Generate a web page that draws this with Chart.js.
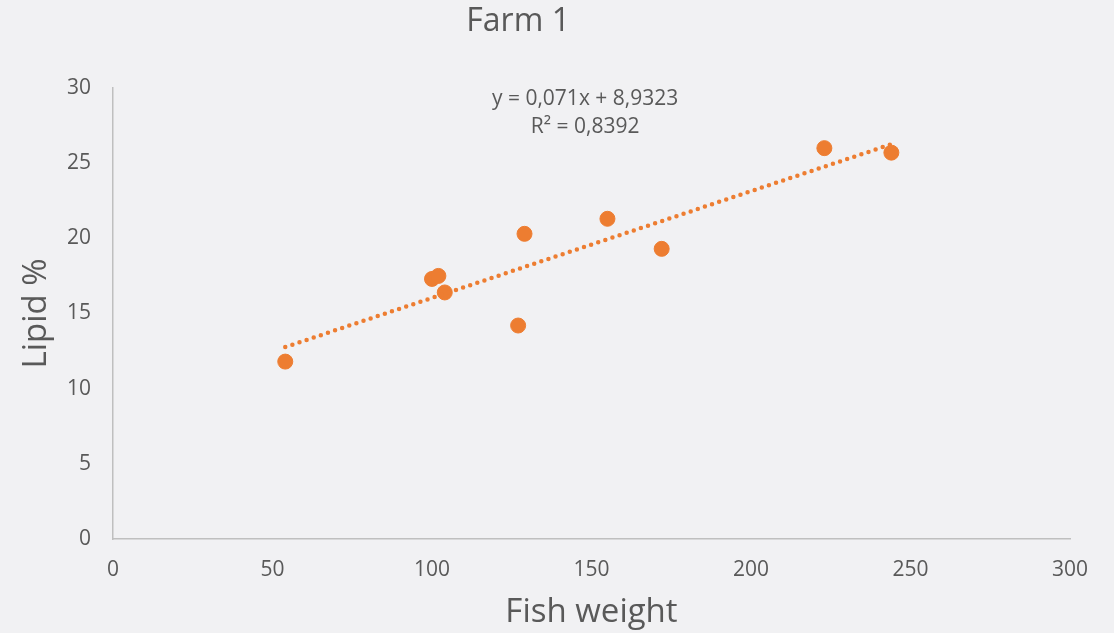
<!DOCTYPE html>
<html>
<head>
<meta charset="utf-8">
<script src="https://cdn.jsdelivr.net/npm/chart.js@4"></script>
<style>
  html, body { margin: 0; padding: 0; background: #f1f1f3; }
  #wrap { width: 1114px; height: 633px; }
</style>
</head>
<body>
<div id="wrap"><canvas id="chart" width="1114" height="633"></canvas></div>
<script>
// Chart data
const fishWeight = [54, 100, 102, 104, 127, 129, 155, 172, 223, 244];
const lipidPct   = [11.8, 17.3, 17.5, 16.4, 14.2, 20.3, 21.3, 19.3, 26.0, 25.7];
const trendX = [54, 244];
const trendY = [12.77, 26.26];
const xTicks = [0, 50, 100, 150, 200, 250, 300];
const yTicks = [0, 5, 10, 15, 20, 25, 30];
const chartTitle = 'Farm 1';
const equationLines = ['y = 0,071x + 8,9323', 'R² = 0,8392'];

const orange = '#ED7D31';
const textGrey = '#595959';
const fontFamily = '"Open Sans", Lato, sans-serif';

const points = fishWeight.map((x, i) => ({ x: x, y: lipidPct[i] }));
const trend = trendX.map((x, i) => ({ x: x, y: trendY[i] }));

// Chart title (sits a bit left of centre, as in the original) and trendline label
const labelsPlugin = {
    id: 'labels',
    afterDatasetsDraw(chart) {
        const ctx = chart.ctx;
        const xs = chart.scales.x;
        const ys = chart.scales.y;
        ctx.save();
        ctx.fillStyle = textGrey;
        ctx.textAlign = 'center';
        ctx.textBaseline = 'middle';

        ctx.font = '32px ' + fontFamily;
        ctx.fillText(chartTitle, xs.getPixelForValue(127), 22);

        ctx.font = '21px ' + fontFamily;
        const cx = xs.getPixelForValue(148);
        const cy = ys.getPixelForValue(29.25);
        equationLines.forEach((line, i) => ctx.fillText(line, cx, cy + i * 28));
        ctx.restore();
    }
};

new Chart(document.getElementById('chart').getContext('2d'), {
    type: 'scatter',
    data: {
        datasets: [
            {
                label: 'Trend',
                type: 'line',
                data: trend,
                borderColor: orange,
                borderWidth: 4.5,
                borderDash: [0, 7.5],
                borderCapStyle: 'round',
                pointRadius: 0,
                fill: false
            },
            {
                label: 'Farm 1',
                data: points,
                backgroundColor: orange,
                borderColor: orange,
                pointRadius: 7.5,
                pointHoverRadius: 7.5
            }
        ]
    },
    options: {
        responsive: false,
        animation: false,
        layout: { padding: { left: 17, right: 44, top: 88, bottom: 0 } },
        plugins: {
            legend: { display: false },
            tooltip: { enabled: false },
            title: { display: false }
        },
        scales: {
            x: {
                type: 'linear',
                min: 0,
                max: 300,
                afterBuildTicks: (s) => { s.ticks = xTicks.map(v => ({ value: v })); },
                afterFit: (s) => { s.height = 94; },
                grid: { display: false },
                border: { display: true, color: '#bfbfbf', width: 1.5 },
                ticks: { color: textGrey, font: { family: fontFamily, size: 21 }, padding: 10 },
                title: {
                    display: true,
                    text: 'Fish weight',
                    color: textGrey,
                    font: { family: fontFamily, size: 33, lineHeight: 1.1 },
                    padding: { top: 0, bottom: 2 }
                }
            },
            y: {
                min: 0,
                max: 30,
                afterBuildTicks: (s) => { s.ticks = yTicks.map(v => ({ value: v })); },
                afterFit: (s) => { s.width = 96; },
                grid: { display: false },
                border: { display: true, color: '#bfbfbf', width: 1.5 },
                ticks: { color: textGrey, font: { family: fontFamily, size: 21 }, padding: 14 },
                title: {
                    display: true,
                    text: 'Lipid %',
                    color: textGrey,
                    font: { family: fontFamily, size: 33 },
                    padding: { top: 0, bottom: 0 }
                }
            }
        }
    },
    plugins: [labelsPlugin]
});
</script>
</body>
</html>
